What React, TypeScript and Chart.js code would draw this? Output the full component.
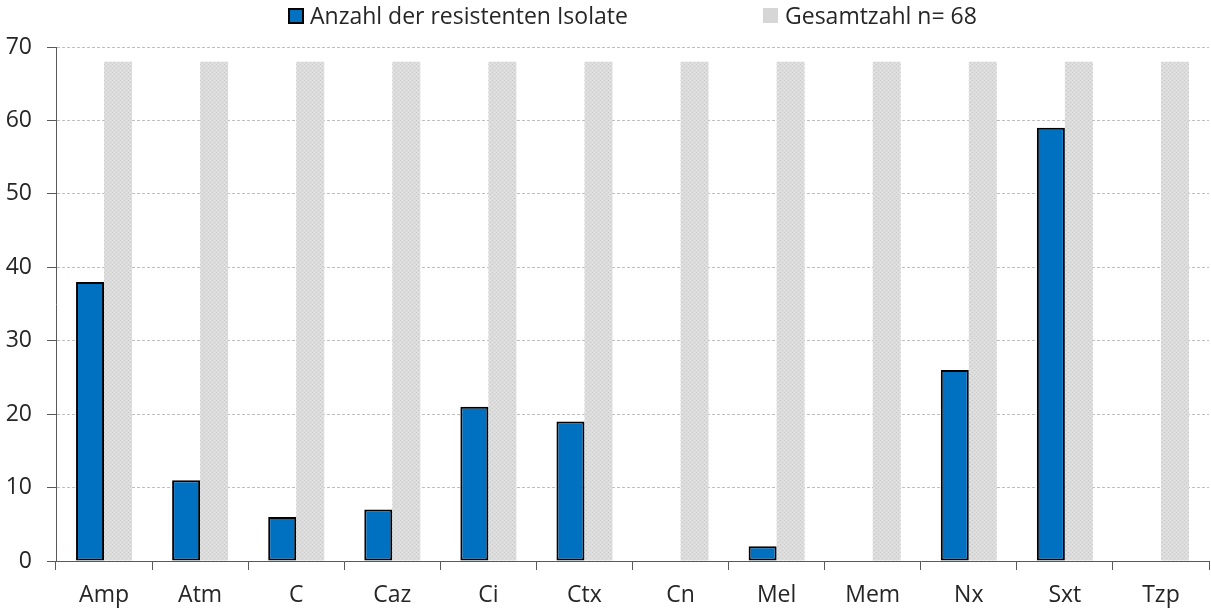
import React, { useEffect, useRef } from "react";
import { Chart, registerables } from "chart.js";

Chart.register(...registerables);

const categories = ["Amp", "Atm", "C", "Caz", "Ci", "Ctx", "Cn", "Mel", "Mem", "Nx", "Sxt", "Tzp"];
const resistant = [38, 11, 6, 7, 21, 19, 0, 2, 0, 26, 59, 0];
const total = [68, 68, 68, 68, 68, 68, 68, 68, 68, 68, 68, 68];
const seriesNames = ["Anzahl der resistenten Isolate", "Gesamtzahl n= 68"];
const yTicks = { min: 0, max: 70, step: 10 };

const FONT = "'Open Sans', Lato, sans-serif";
const FONT_SIZE = 23;
const BLUE = "#0070C0";
const TEXT = "#262626";

function makeGrayPattern(): CanvasPattern | string {
  const c = document.createElement("canvas");
  c.width = 4;
  c.height = 4;
  const ctx = c.getContext("2d");
  if (!ctx) return "#d9d9d9";
  ctx.fillStyle = "#dcdcdc";
  ctx.fillRect(0, 0, 4, 4);
  ctx.fillStyle = "#c9c9c9";
  ctx.fillRect(0, 0, 1, 1);
  ctx.fillRect(2, 2, 1, 1);
  ctx.fillStyle = "#e4e4e4";
  ctx.fillRect(2, 0, 1, 1);
  ctx.fillRect(0, 2, 1, 1);
  const p = ctx.createPattern(c, "repeat");
  return p || "#d9d9d9";
}

export default function App() {
  const ref = useRef<HTMLCanvasElement>(null);

  useEffect(() => {
    if (!ref.current) return;
    const gray = makeGrayPattern();
    const chart = new Chart(ref.current, {
      type: "bar",
      data: {
        labels: categories,
        datasets: [
          {
            label: seriesNames[0],
            data: resistant,
            backgroundColor: BLUE,
            borderColor: "#000000",
            borderWidth: (ctx: any) => (ctx.raw === 0 ? 0 : 2),
            borderSkipped: false,
            categoryPercentage: 0.583,
            barPercentage: 1,
          },
          {
            label: seriesNames[1],
            data: total,
            backgroundColor: gray as any,
            borderWidth: 0,
            categoryPercentage: 0.583,
            barPercentage: 1,
          },
        ],
      },
      options: {
        animation: false,
        responsive: true,
        maintainAspectRatio: false,
        layout: { padding: { top: 47, right: 2, left: 0, bottom: 0 } },
        plugins: {
          legend: { display: false },
          tooltip: { enabled: false },
        },
        scales: {
          x: {
            grid: {
              display: true,
              drawOnChartArea: false,
              drawTicks: true,
              tickLength: 9,
              tickColor: "#595959",
              tickWidth: 1,
              offset: true,
            },
            border: { display: true, color: "#595959", width: 1 },
            ticks: {
              color: TEXT,
              font: { family: FONT, size: FONT_SIZE },
              padding: 12,
            },
            afterFit: (scale: any) => {
              scale.height = 50;
            },
          },
          y: {
            min: yTicks.min,
            max: yTicks.max,
            ticks: {
              stepSize: yTicks.step,
              color: TEXT,
              font: { family: FONT, size: FONT_SIZE },
              padding: 15,
            },
            grid: {
              color: "#bfbfbf",
              lineWidth: 1,
              drawTicks: true,
              tickLength: 9,
              tickColor: "#595959",
              tickBorderDash: [],
            },
            border: { display: true, color: "#595959", width: 1, dash: [3, 2] },
            afterFit: (scale: any) => {
              scale.width = 56;
            },
          },
        },
      },
    });
    return () => chart.destroy();
  }, []);

  const textStyle: React.CSSProperties = {
    position: "absolute",
    top: 0,
    fontFamily: FONT,
    fontSize: FONT_SIZE,
    color: TEXT,
    lineHeight: "30px",
    whiteSpace: "nowrap",
  };

  return (
    <div style={{ position: "fixed", left: 0, top: 0, width: 1211, height: 611, background: "#fff" }}>
      <canvas ref={ref} />
      <div
        style={{
          position: "absolute",
          left: 288,
          top: 8,
          width: 12,
          height: 12,
          background: BLUE,
          border: "2px solid #000",
        }}
      />
      <span style={{ ...textStyle, left: 310 }}>{seriesNames[0]}</span>
      <div
        style={{
          position: "absolute",
          left: 763,
          top: 8,
          width: 15,
          height: 15,
          background: "#d6d6d6",
        }}
      />
      <span style={{ ...textStyle, left: 785 }}>{seriesNames[1]}</span>
    </div>
  );
}
